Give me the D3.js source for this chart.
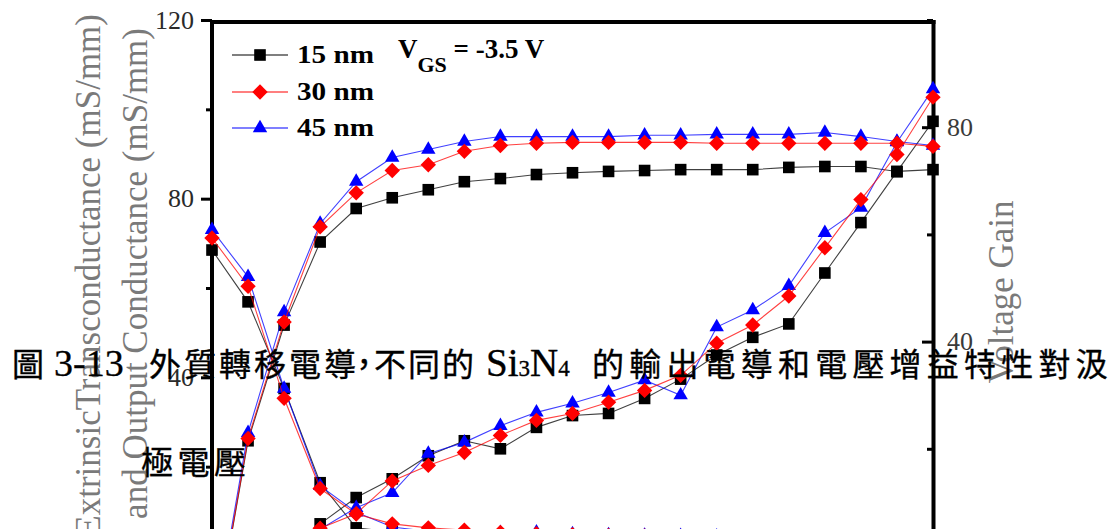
<!DOCTYPE html>
<html><head><meta charset="utf-8">
<script src="https://cdn.jsdelivr.net/npm/d3@7"></script>
<style>
html,body{margin:0;padding:0;background:#fff;overflow:hidden}
svg{display:block}
</style></head><body>
<svg id="chart" width="1117" height="529"></svg>
<script>
// Drain voltage sweep (V)
const vds = [0, 0.5, 1, 1.5, 2, 2.5, 3, 3.5, 4, 4.5, 5, 5.5, 6, 6.5, 7, 7.5, 8, 8.5, 9, 9.5, 10];
const seriesNames = ["15 nm", "30 nm", "45 nm"];
const seriesColors = ["#000000", "#ff0000", "#0000ff"];

// Extrinsic transconductance gm (mS/mm)
const gm15 = [-20, 25.8, 51.7, 70.3, 77.8, 80.2, 82.0, 83.8, 84.5, 85.4, 85.8, 86.1, 86.3, 86.5, 86.5, 86.5, 87.0, 87.2, 87.2, 86.1, 86.5];
const gm30 = [-20, 26.3, 52.4, 73.7, 81.3, 86.3, 87.6, 90.6, 91.9, 92.4, 92.6, 92.6, 92.6, 92.6, 92.4, 92.4, 92.4, 92.4, 92.4, 92.4, 91.7];
const gm45 = [-19, 27.6, 54.6, 74.4, 83.8, 89.2, 91.0, 92.8, 93.9, 93.9, 93.9, 93.9, 94.2, 94.2, 94.4, 94.4, 94.4, 94.8, 93.9, 92.8, 91.9];

// Output conductance gd (mS/mm)
const gd15 = [68.5, 56.9, 37.5, 16.4, 6.3, 5.4, 4.9, 4.6, 4.4, 4.2, 4.0, 3.9, 3.8, 3.7, 3.6, 3.5, 3.4, 3.3, 3.2, 3.1, 3.0];
const gd30 = [71.2, 60.4, 35.3, 15.1, 9.4, 7.2, 6.3, 5.8, 5.3, 5.0, 4.8, 4.6, 4.5, 4.4, 4.2, 4.1, 4.0, 3.9, 3.8, 3.6, 3.4];
const gd45 = [73.0, 62.5, 37.5, 15.7, 9.8, 6.5, 5.5, 5.4, 5.2, 5.3, 4.9, 4.7, 4.6, 4.5, 4.4, 4.2, 4.1, 4.0, 3.9, 3.7, 3.5];

// Voltage gain gm/gd
const gain15 = [0, 0, 0.3, 6.0, 10.9, 14.4, 18.7, 21.5, 20.0, 24.0, 26.2, 26.6, 29.4, 33.0, 37.5, 40.8, 43.3, 52.8, 62.2, 71.7, 81.1];
const gain30 = [0, 0, 0.5, 5.2, 7.9, 14.0, 16.9, 19.3, 22.5, 25.3, 26.6, 28.7, 30.9, 33.7, 39.7, 43.1, 48.5, 57.5, 66.5, 74.9, 85.6];
const gain45 = [0, 0, 0.4, 5.0, 9.0, 11.8, 19.1, 21.2, 24.3, 26.8, 28.5, 30.5, 32.8, 30.0, 42.7, 45.9, 50.4, 60.3, 65.0, 77.2, 87.1];

const leftMajor = [0, 40, 80, 120];
const leftMinor = [20, 60, 100];
const rightMajor = [0, 40, 80];
const rightMinor = [20, 60, 100];

const gmSets = [gm15, gm30, gm45];
const gdSets = [gd15, gd30, gd45];
const gainSets = [gain15, gain30, gain45];

const svg = d3.select("#chart");
const serif = "'Liberation Serif','Times New Roman',serif";
const cjk = "'Noto Sans CJK TC','Noto Sans CJK SC',sans-serif";

const x = d3.scaleLinear().domain([0, 10]).range([212, 933]);
const yL = d3.scaleLinear().domain([0, 120]).range([556, 20]);
const yR = d3.scaleLinear().domain([0, 100]).range([556, 20]);

// ---- axes ----
function styleAxis(g, fontSize, fill) {
  g.select(".domain").remove();
  g.selectAll(".tick line").attr("stroke", "#000").attr("stroke-width", 3);
  g.selectAll(".tick text").attr("font-family", serif).attr("font-size", fontSize).attr("fill", fill);
}
svg.append("g").attr("transform", "translate(212,0)")
  .call(d3.axisLeft(yL).tickValues(leftMajor).tickSize(11).tickPadding(7).tickFormat(d3.format("d")))
  .call(g => styleAxis(g, 26, "#2a2a2a"));
svg.append("g").attr("transform", "translate(212,0)")
  .call(d3.axisLeft(yL).tickValues(leftMinor).tickSize(6).tickFormat(""))
  .call(g => styleAxis(g, 26, "#2a2a2a"));
svg.append("g").attr("transform", "translate(933,0)")
  .call(d3.axisRight(yR).tickValues(rightMajor).tickSize(-11).tickPadding(14).tickFormat(d3.format("d")))
  .call(g => styleAxis(g, 26, "#3a3a3a"));
svg.append("g").attr("transform", "translate(933,0)")
  .call(d3.axisRight(yR).tickValues(rightMinor).tickSize(-6).tickFormat(""))
  .call(g => styleAxis(g, 26, "#3a3a3a"));

// frame
const frame = svg.append("g").attr("stroke", "#000").attr("stroke-width", 4).attr("fill", "none");
frame.append("line").attr("x1", x(0)).attr("x2", x(0)).attr("y1", yL(120)).attr("y2", 560);
frame.append("line").attr("x1", x(0) - 2).attr("x2", x(10) + 2.5).attr("y1", yL(120) + 2).attr("y2", yL(120) + 2);
frame.append("line").attr("x1", x(10) + 0.5).attr("x2", x(10) + 0.5).attr("y1", yL(120)).attr("y2", 560);

// axis titles
function vtitle(tx, ty, anchor, text, size, fill) {
  svg.append("text")
    .attr("transform", `translate(${tx},${ty}) rotate(-90)`)
    .attr("text-anchor", anchor)
    .attr("font-family", serif).attr("font-size", size).attr("fill", fill)
    .text(text);
}
vtitle(100, 14, "end", "ExtrinsicTransconductance (mS/mm)", 35, "#7a7a7a");
vtitle(147, 28, "end", "and Output Conductance (mS/mm)", 35, "#7a7a7a");
vtitle(1013, 292, "middle", "Voltage Gain", 35, "#7a7a7a");

// ---- series ----
const markerTypes = [
  { type: d3.symbolSquare, size: 135, rot: 0 },
  { type: d3.symbolSquare, size: 118, rot: 45 },
  { type: d3.symbolTriangle, size: 90, rot: 0 }
];
function drawCurve(g, values, yScale, i) {
  const line = d3.line().x((d, k) => x(vds[k])).y(d => yScale(d));
  g.append("path").attr("d", line(values)).attr("fill", "none")
    .attr("stroke", seriesColors[i]).attr("stroke-width", 1.1).attr("stroke-opacity", 0.75);
  const m = markerTypes[i];
  g.selectAll(null).data(values).join("path")
    .attr("d", d3.symbol(m.type, m.size))
    .attr("transform", (d, k) => `translate(${x(vds[k])},${yScale(d)}) rotate(${m.rot})`)
    .attr("fill", seriesColors[i]);
}
[0, 2, 1].forEach(i => {
  const g = svg.append("g");
  drawCurve(g, gmSets[i], yL, i);
  drawCurve(g, gdSets[i], yL, i);
  drawCurve(g, gainSets[i], yR, i);
});

// ---- legend ----
const legend = svg.append("g");
const legendY = [55, 92, 128];
seriesNames.forEach((name, i) => {
  legend.append("line").attr("x1", 232).attr("x2", 288).attr("y1", legendY[i]).attr("y2", legendY[i])
    .attr("stroke", seriesColors[i]).attr("stroke-width", 1.1);
  const m = markerTypes[i];
  legend.append("path").attr("d", d3.symbol(m.type, m.size))
    .attr("transform", `translate(260,${legendY[i]}) rotate(${m.rot})`).attr("fill", seriesColors[i]);
  legend.append("text").attr("x", 297).attr("y", legendY[i] + 8)
    .attr("font-family", serif).attr("font-weight", "bold").attr("font-size", 26)
    .attr("textLength", 77).attr("lengthAdjust", "spacingAndGlyphs")
    .text(name);
});
const vgs = svg.append("text").attr("x", 398).attr("y", 58)
  .attr("font-family", serif).attr("font-weight", "bold").attr("font-size", 27);
vgs.append("tspan").text("V");
vgs.append("tspan").attr("dy", 14).attr("font-size", 22).text("GS");
vgs.append("tspan").attr("dy", -14).text(" = -3.5 V");

// ---- caption ----
const cap = svg.append("g").attr("fill", "#000").attr("stroke", "#000").attr("stroke-width", 0.35);
function cjkText(tx, ty, text, spacing) {
  cap.append("text").attr("x", tx).attr("y", ty)
    .attr("font-family", cjk).attr("font-size", 32).attr("letter-spacing", spacing)
    .text(text);
}
function latinText(tx, ty, text, size) {
  return cap.append("text").attr("x", tx).attr("y", ty)
    .attr("font-family", serif).attr("font-size", size)
    .text(text);
}
cjkText(12, 376, "圖", 0);
latinText(54, 376, "3-13", 38);
cjkText(149, 376, "外質轉移電導", 3);
cjkText(348, 376, "，", 0);
cjkText(374, 376, "不同的", 2);
const sin = latinText(486, 376, "Si", 39);
sin.append("tspan").attr("font-size", 23).text("3");
sin.append("tspan").text("N");
sin.append("tspan").attr("font-size", 23).text("4");
cjkText(592, 376, "的輸出電導和電壓增益特性對汲", 5.2);
cjkText(141, 474, "極電壓", 4.5);
</script>
</body></html>
